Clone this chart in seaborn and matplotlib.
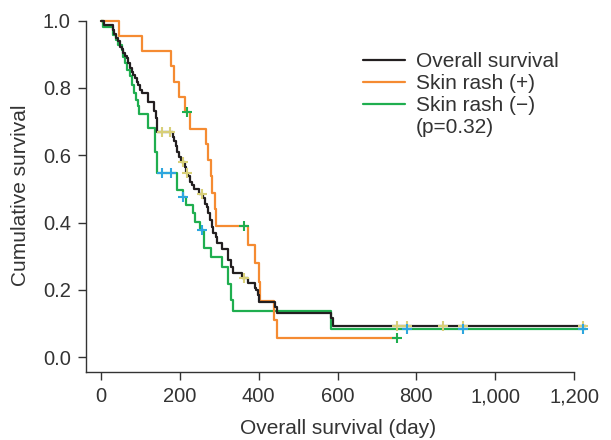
import numpy as np
import pandas as pd
import matplotlib
matplotlib.use("Agg")
import matplotlib.pyplot as plt
import seaborn as sns
from matplotlib.lines import Line2D
from matplotlib.ticker import FuncFormatter

# Kaplan-Meier steps (day, survival after the drop)
all_days = [0, 8, 31, 34, 37, 42, 48, 53, 57, 61, 65, 69, 74, 78, 82, 86, 91, 95, 99, 103,
            120, 135, 140, 143, 182, 185, 190, 194, 198, 203, 212, 216, 221, 226, 230, 237,
            249, 260, 264, 268, 272, 277, 281, 284, 291, 295, 306, 323, 329, 334, 358, 373,
            391, 393, 399, 402, 441, 446, 583, 589, 1230]
all_surv = [1.0, 0.987, 0.972, 0.960, 0.948, 0.938, 0.923, 0.915, 0.903, 0.896, 0.888, 0.873,
            0.859, 0.848, 0.839, 0.829, 0.819, 0.809, 0.794, 0.784, 0.759, 0.730, 0.712, 0.670,
            0.655, 0.641, 0.626, 0.611, 0.596, 0.581, 0.565, 0.548, 0.537, 0.522, 0.512, 0.500,
            0.484, 0.472, 0.455, 0.445, 0.428, 0.408, 0.388, 0.368, 0.358, 0.339, 0.322, 0.289,
            0.269, 0.251, 0.235, 0.220, 0.205, 0.200, 0.185, 0.165, 0.149, 0.131, 0.116, 0.093,
            0.093]
all_cens_days = [154, 176, 209, 217, 255, 363, 750, 777, 868, 919, 1223]
all_cens_surv = [0.670, 0.670, 0.581, 0.548, 0.484, 0.235, 0.093, 0.093, 0.093, 0.093, 0.093]

pos_days = [0, 46, 103, 177, 186, 198, 213, 225, 266, 272, 278, 281, 290, 292, 372, 391,
            401, 404, 440, 447, 751]
pos_surv = [1.0, 0.955, 0.909, 0.864, 0.818, 0.773, 0.727, 0.679, 0.634, 0.585, 0.537, 0.488,
            0.439, 0.390, 0.334, 0.279, 0.223, 0.167, 0.111, 0.056, 0.056]
pos_cens_days = [217, 363, 751]
pos_cens_surv = [0.727, 0.390, 0.056]

neg_days = [0, 6, 31, 38, 44, 53, 57, 61, 67, 74, 79, 84, 88, 93, 97, 120, 137, 141, 192,
            207, 216, 233, 238, 251, 261, 278, 306, 321, 329, 335, 584, 1230]
neg_surv = [1.0, 0.982, 0.958, 0.943, 0.928, 0.913, 0.893, 0.873, 0.853, 0.834, 0.809, 0.784,
            0.764, 0.745, 0.723, 0.680, 0.611, 0.547, 0.497, 0.477, 0.452, 0.428, 0.403, 0.378,
            0.324, 0.297, 0.269, 0.218, 0.170, 0.138, 0.083, 0.083]
neg_cens_days = [154, 177, 209, 255, 777, 919, 1223]
neg_cens_surv = [0.547, 0.547, 0.477, 0.378, 0.083, 0.083, 0.083]

labels = ["Overall survival", "Skin rash (+)", "Skin rash (\u2212)"]
line_colors = ["#231f20", "#f58b32", "#1fae4f"]
cens_colors = ["#d8cf78", "#1fae4f", "#2ea6df"]

df = pd.concat([
    pd.DataFrame({"day": all_days, "surv": all_surv, "group": labels[0]}),
    pd.DataFrame({"day": pos_days, "surv": pos_surv, "group": labels[1]}),
    pd.DataFrame({"day": neg_days, "surv": neg_surv, "group": labels[2]}),
])
cens = [(all_cens_days, all_cens_surv), (pos_cens_days, pos_cens_surv),
        (neg_cens_days, neg_cens_surv)]

sns.set_theme(style="ticks")
plt.rcParams["font.family"] = ["Liberation Sans", "DejaVu Sans"]

fig = plt.figure(figsize=(6.11, 4.40), dpi=100)
ax = fig.add_axes([0.1408, 0.1545, 0.8245, 0.8025])

sns.lineplot(data=df, x="day", y="surv", hue="group",
             hue_order=[labels[2], labels[1], labels[0]],
             palette=dict(zip(labels, line_colors)),
             drawstyle="steps-post", estimator=None, sort=False,
             linewidth=1.6, legend=False, ax=ax)

for (cd, cs), c in zip(cens, cens_colors):
    sns.scatterplot(x=cd, y=cs, marker="+", s=60, color=c, linewidth=1.5,
                    zorder=5, ax=ax)

ax.set_xlim(-38, 1240)
ax.set_ylim(-0.044, 1.005)
ax.set_xticks(np.arange(0, 1201, 200))
ax.set_yticks(np.arange(0, 1.01, 0.2))
ax.xaxis.set_major_formatter(FuncFormatter(lambda v, p: f"{int(v):,}"))
ax.yaxis.set_major_formatter(FuncFormatter(lambda v, p: f"{v:.1f}"))
sns.despine(ax=ax)
ax.spines["bottom"].set_bounds(-38, 1200)
ax.spines["left"].set_bounds(-0.044, 1.0)
for s in ["bottom", "left"]:
    ax.spines[s].set_color("#333333")
    ax.spines[s].set_linewidth(1.0)
ax.tick_params(length=6, width=1.0, color="#333333", labelsize=14.5,
               labelcolor="#333333", pad=5)

ax.set_xlabel("Overall survival (day)", fontsize=15, color="#333333", labelpad=9)
ax.set_ylabel("Cumulative survival", fontsize=15, color="#333333", labelpad=9)

handles = [Line2D([], [], color=c, linewidth=1.6) for c in line_colors]
handles.append(Line2D([], [], color="none"))
ax.legend(handles, labels + ["(p=0.32)"], loc="upper left",
          bbox_to_anchor=(363 / 611, 1 - 52 / 440), bbox_transform=fig.transFigure,
          frameon=False, fontsize=15, handlelength=2.0, handletextpad=0.55,
          labelspacing=0.15, borderpad=0, borderaxespad=0,
          labelcolor="#333333")

fig.savefig("out.png", dpi=100)
